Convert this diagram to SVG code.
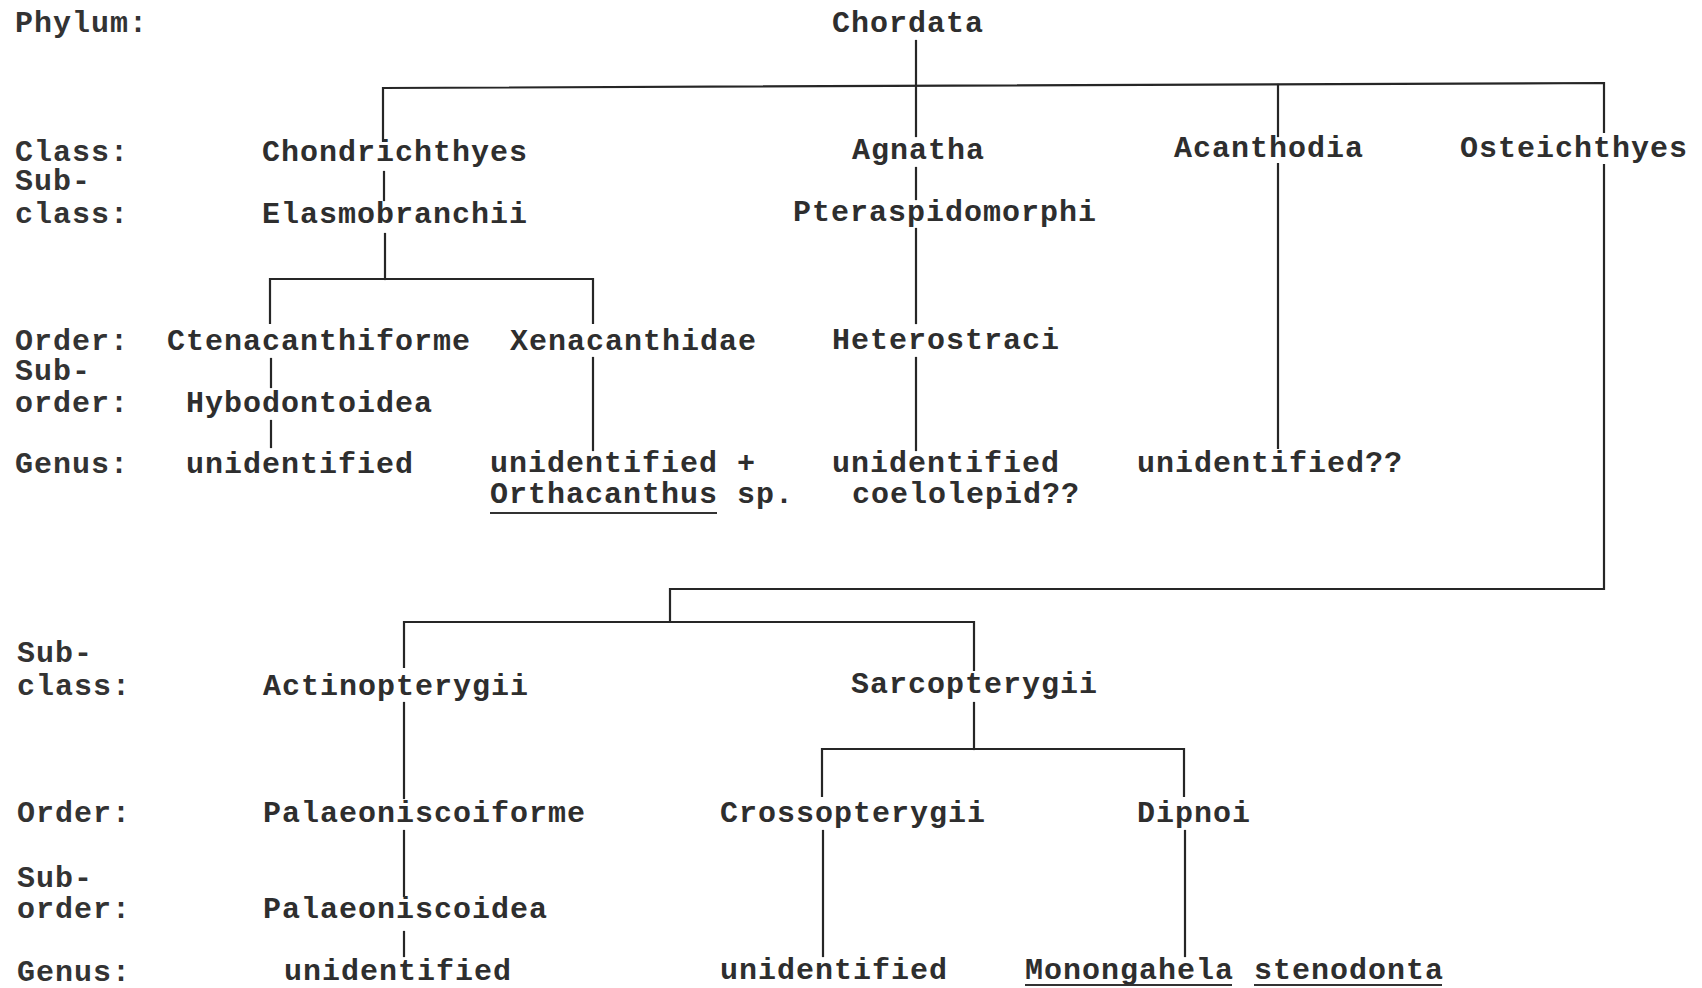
<svg xmlns="http://www.w3.org/2000/svg" width="1702" height="988" viewBox="0 0 1702 988">
  <style>
    text { font-family: "Liberation Mono", "DejaVu Sans Mono", monospace; font-size: 30px; letter-spacing: 1px; font-weight: bold; fill: #2e2e2e; }
    .rank { fill: #333333; }
    .link { stroke: #262626; stroke-width: 2.2; fill: none; stroke-linecap: square; }
    .ul { stroke: #333333; stroke-width: 1.8; }
  </style>
  <rect width="1702" height="988" fill="#ffffff"/>

  <!-- rank labels down the left margin -->
  <g id="ranks" class="rank">
    <text class="rank" x="15" y="32">Phylum:</text>
    <text class="rank" x="15" y="161">Class:</text>
    <text class="rank" x="15" y="190">Sub-</text>
    <text class="rank" x="15" y="223">class:</text>
    <text class="rank" x="15" y="350">Order:</text>
    <text class="rank" x="15" y="380">Sub-</text>
    <text class="rank" x="15" y="412">order:</text>
    <text class="rank" x="15" y="473">Genus:</text>
    <text class="rank" x="17" y="662">Sub-</text>
    <text class="rank" x="17" y="695">class:</text>
    <text class="rank" x="17" y="822">Order:</text>
    <text class="rank" x="17" y="887">Sub-</text>
    <text class="rank" x="17" y="918">order:</text>
    <text class="rank" x="17" y="981">Genus:</text>
  </g>

  <!-- tree connectors -->
  <g id="connectors" class="link">
    <!-- phylum to classes -->
    <path d="M916 41 V136"/>
    <path d="M383 141 V88 L1604 83 V132"/>
    <path d="M1278 85 V136"/>
    <!-- Chondrichthyes branch -->
    <path d="M384 172 V200"/>
    <path d="M385 234 V279"/>
    <path d="M270 323 V279 H593 V323"/>
    <path d="M271 359 V387"/>
    <path d="M271 421 V447"/>
    <path d="M593 358 V450"/>
    <!-- Agnatha branch -->
    <path d="M916 168 V199"/>
    <path d="M916 229 V323"/>
    <path d="M916 358 V450"/>
    <!-- Acanthodia -->
    <path d="M1278 164 V448"/>
    <!-- Osteichthyes down to lower tree -->
    <path d="M1604 165 V589 H670 V622"/>
    <path d="M404 667 V622 H974 V670"/>
    <!-- Actinopterygii branch -->
    <path d="M404 703 V798"/>
    <path d="M404 831 V896"/>
    <path d="M404 932 V956"/>
    <!-- Sarcopterygii branch -->
    <path d="M974 703 V749"/>
    <path d="M822 796 V749 H1184 V796"/>
    <path d="M823 831 V956"/>
    <path d="M1185 831 V956"/>
  </g>

  <g id="n-chordata"><text x="832" y="32">Chordata</text></g>
  <g id="n-chondrichthyes"><text x="262" y="161">Chondrichthyes</text></g>
  <g id="n-elasmobranchii"><text x="262" y="223">Elasmobranchii</text></g>
  <g id="n-agnatha"><text x="852" y="159">Agnatha</text></g>
  <g id="n-pteraspidomorphi"><text x="793" y="221">Pteraspidomorphi</text></g>
  <g id="n-acanthodia"><text x="1174" y="157">Acanthodia</text></g>
  <g id="n-osteichthyes"><text x="1460" y="157">Osteichthyes</text></g>

  <g id="n-ctenacanthiforme"><text x="167" y="350">Ctenacanthiforme</text></g>
  <g id="n-xenacanthidae"><text x="510" y="350">Xenacanthidae</text></g>
  <g id="n-heterostraci"><text x="832" y="349">Heterostraci</text></g>
  <g id="n-hybodontoidea"><text x="186" y="412">Hybodontoidea</text></g>

  <g id="n-genus-hybodont"><text x="186" y="473">unidentified</text></g>
  <g id="n-genus-xenacanth">
    <text x="490" y="472">unidentified +</text>
    <text x="490" y="503">Orthacanthus sp.</text>
    <line class="ul" x1="490" y1="513" x2="717" y2="513"/>
  </g>
  <g id="n-genus-heterostraci">
    <text x="832" y="472">unidentified</text>
    <text x="852" y="503">coelolepid??</text>
  </g>
  <g id="n-genus-acanthodia"><text x="1137" y="472">unidentified??</text></g>

  <g id="n-actinopterygii"><text x="263" y="695">Actinopterygii</text></g>
  <g id="n-sarcopterygii"><text x="851" y="693">Sarcopterygii</text></g>
  <g id="n-palaeoniscoiforme"><text x="263" y="822">Palaeoniscoiforme</text></g>
  <g id="n-crossopterygii"><text x="720" y="822">Crossopterygii</text></g>
  <g id="n-dipnoi"><text x="1137" y="822">Dipnoi</text></g>
  <g id="n-palaeoniscoidea"><text x="263" y="918">Palaeoniscoidea</text></g>

  <g id="n-genus-palaeoniscoid"><text x="284" y="980">unidentified</text></g>
  <g id="n-genus-crossopterygii"><text x="720" y="979">unidentified</text></g>
  <g id="n-genus-dipnoi">
    <text x="1025" y="979">Monongahela</text>
    <text x="1254" y="979">stenodonta</text>
    <line class="ul" x1="1025" y1="985" x2="1232" y2="985"/>
    <line class="ul" x1="1254" y1="985" x2="1442" y2="985"/>
  </g>
</svg>
